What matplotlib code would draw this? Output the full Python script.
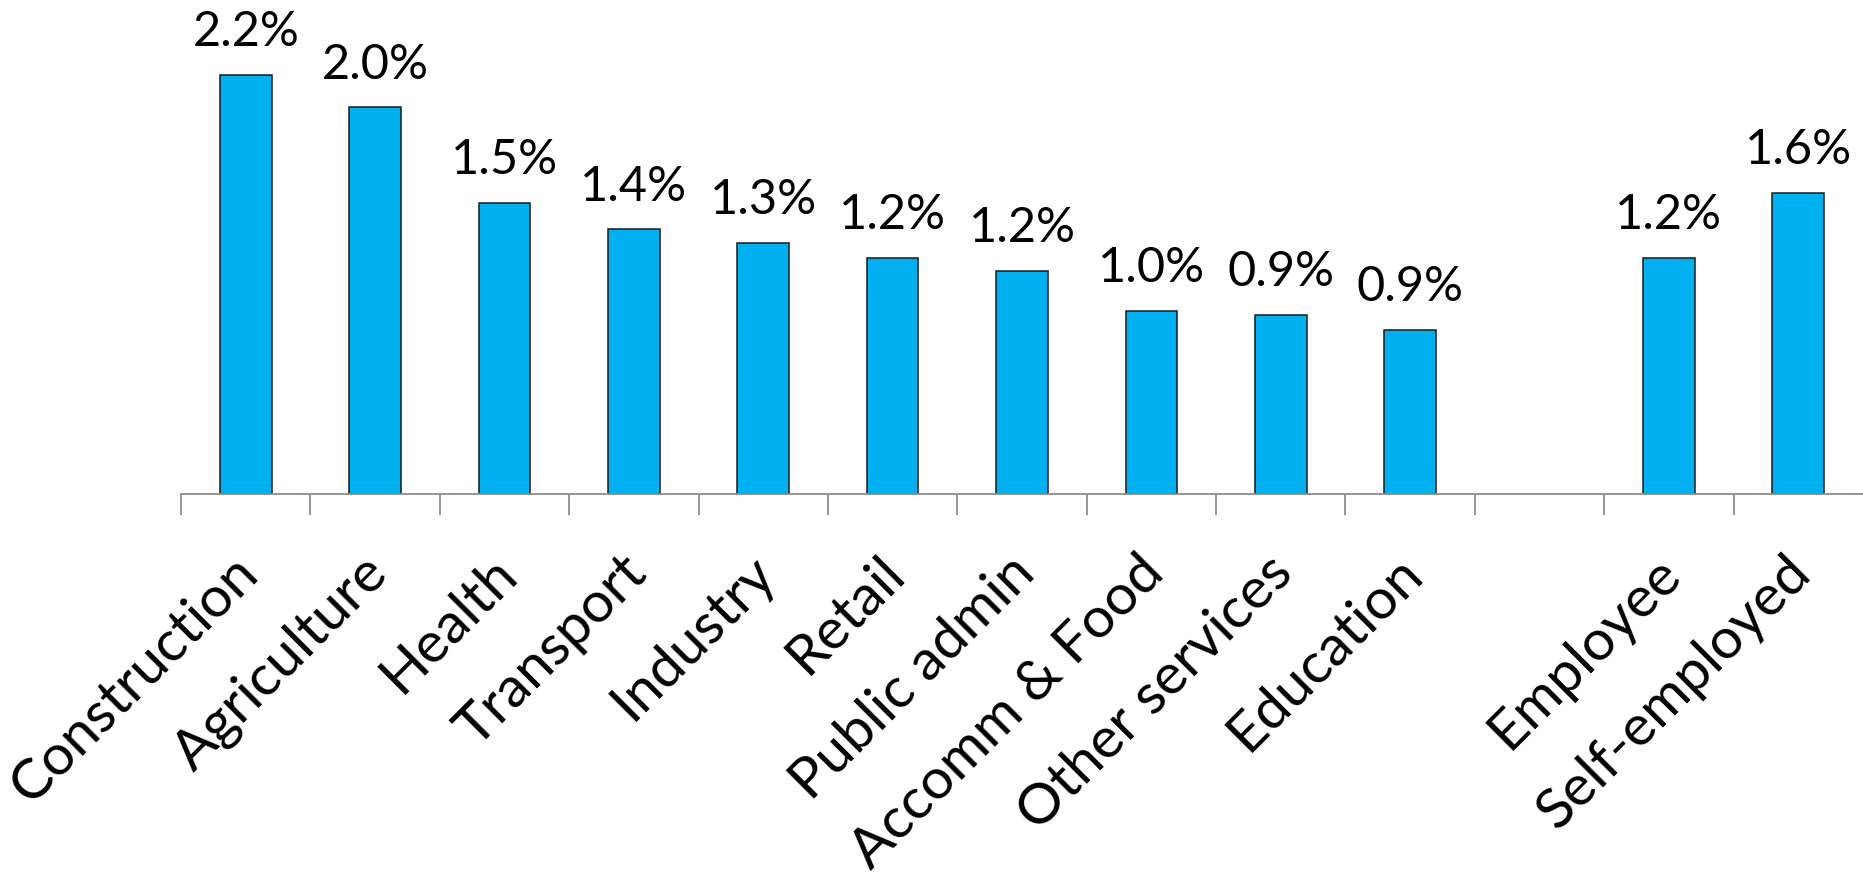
import matplotlib
matplotlib.use("Agg")
import matplotlib.pyplot as plt
import matplotlib.transforms as mtransforms
import numpy as np

plt.rcParams['font.family'] = ['Lato', 'DejaVu Sans']

# categories (blank one is the gap between sectors and employment status)
categories = ["Construction", "Agriculture", "Health", "Transport", "Industry",
              "Retail", "Public admin", "Accomm & Food", "Other services",
              "Education", "", "Employee", "Self-employed"]
values = [2.20, 2.03, 1.53, 1.39, 1.32, 1.24, 1.17, 0.96, 0.94, 0.86,
          None, 1.24, 1.58]
value_labels = ["2.2%", "2.0%", "1.5%", "1.4%", "1.3%", "1.2%", "1.2%",
                "1.0%", "0.9%", "0.9%", "", "1.2%", "1.6%"]

fig = plt.figure(figsize=(18.63, 8.81), dpi=100)
ax = fig.add_axes([181 / 1863, 387 / 881, (1863 - 181) / 1863, 476 / 881])

pos = np.arange(len(categories))
keep = [i for i, v in enumerate(values) if v is not None]
bars = ax.bar(pos[keep], [values[i] for i in keep], width=0.4,
              color="#00B0F0", edgecolor="#1a1a1a", linewidth=1.1, zorder=2)

for i in keep:
    ax.annotate(value_labels[i], (pos[i], values[i]), xytext=(0, 15),
                textcoords="offset points", ha="center", va="bottom",
                fontsize=35, color="black")

ax.set_xlim(-0.5, len(categories) - 0.5)
ax.set_ylim(0, 2.5)
ax.set_yticks([])
for s in ["top", "right", "left"]:
    ax.spines[s].set_visible(False)
ax.spines["bottom"].set_color("#8c8c8c")
ax.spines["bottom"].set_linewidth(1.3)

# category labels at bar centres, boundary ticks as minor ticks
ax.set_xticks(pos)
ax.set_xticklabels(categories, rotation=45, ha="right",
                   rotation_mode="anchor", fontsize=41)
ax.tick_params(axis="x", which="major", length=0, pad=38)
ax.set_xticks(np.arange(len(categories)) - 0.5, minor=True)
ax.tick_params(axis="x", which="minor", length=15, width=1.3,
               color="#8c8c8c", direction="out")
offset = mtransforms.ScaledTranslation(-14 / 100, 0, fig.dpi_scale_trans)
for lbl in ax.get_xticklabels():
    lbl.set_transform(lbl.get_transform() + offset)

fig.savefig("out.png", dpi=100)
